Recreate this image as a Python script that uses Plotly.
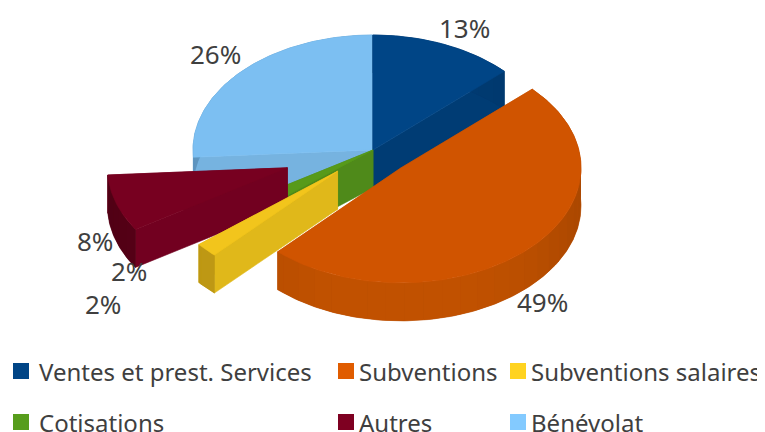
import math
import plotly.graph_objects as go

categories = ["Ventes et prest. Services", "Subventions", "Subventions salaires",
              "Cotisations", "Autres", "Bénévolat"]
shares = [13, 49, 2, 2, 8, 26]

# styling per slice: top colour, cut face colour, outer wall colour, legend colour
TOP = ["#004586", "#d05400", "#f2c51c", "#579a1a", "#770020", "#7cbff2"]
FACE = ["#003c74", "#c05000", "#e0b81a", "#4f8a1a", "#720020", "#76b3e0"]
WALL = ["#003c74", "#c25200", "#c8a015", "#467a14", "#5c0018", "#6aa8d8"]
SWATCH = ["#004586", "#e05c00", "#ffd320", "#579d1c", "#7e0021", "#83caff"]
PULL = [0, 0.22, 0.27, 0, 0.5, 0]

# pie geometry in page pixels
CX, CY = 373, 150
RX, RY = 180, 115
DEPTH = 38
FONT = "Noto Sans"
TEXT = "#3f3f3f"


def pt(cx, cy, deg, r=1.0):
    a = math.radians(deg)
    return cx + RX * r * math.sin(a), cy - RY * r * math.cos(a)


def poly(fig, pts, color, edge=True):
    xs = [p[0] for p in pts] + [pts[0][0]]
    ys = [p[1] for p in pts] + [pts[0][1]]
    fig.add_trace(go.Scatter(x=xs, y=ys, mode="lines", fill="toself", fillcolor=color,
                             line=dict(color=color, width=0.6 if edge else 0),
                             hoverinfo="skip", showlegend=False))


def shade(hex_color, f):
    r, g, b = [int(hex_color[i:i + 2], 16) for i in (1, 3, 5)]
    return "rgb(%d,%d,%d)" % (min(255, r * f), min(255, g * f), min(255, b * f))


def draw_slice(fig, a0, a1, i):
    mid = math.radians((a0 + a1) / 2)
    cx, cy = pt(CX, CY, math.degrees(mid), PULL[i])
    # cut faces, the one further back first
    for a in sorted((a0, a1), key=lambda d: -math.cos(math.radians(d))):
        ex, ey = pt(cx, cy, a)
        poly(fig, [(cx, cy), (ex, ey), (ex, ey + DEPTH), (cx, cy + DEPTH)], FACE[i])
    # outer wall: one base shape, then broad strips on it for the shading
    n = max(2, int(a1 - a0))
    arc = [pt(cx, cy, a0 + (a1 - a0) * k / n) for k in range(n + 1)]
    low = [(p[0], p[1] + DEPTH) for p in reversed(arc)]
    poly(fig, arc + low, shade(WALL[i], 0.95))
    a = a0
    while a < a1:
        b = min(a + 6, a1)
        p, q = pt(cx, cy, a), pt(cx, cy, b)
        f = 1.0 - 0.12 * abs(math.sin(math.radians((a + b) / 2))) ** 3
        poly(fig, [p, q, (q[0], q[1] + DEPTH), (p[0], p[1] + DEPTH)], shade(WALL[i], f), edge=False)
        a = b
    # top
    poly(fig, [(cx, cy)] + arc, TOP[i])


fig = go.Figure()

total = sum(shares)
edges = [0]
for s in shares:
    edges.append(edges[-1] + s / total * 360)

for i in [5, 0, 3, 4, 2, 1]:
    draw_slice(fig, edges[i], edges[i + 1], i)

# legend
rows = [371, 422]
swatch_x = [21, 346, 518]
text_x = [37, 357, 529]
for i, name in enumerate(categories):
    r, c = divmod(i, 3)
    fig.add_trace(go.Scatter(x=[swatch_x[c]], y=[rows[r]], mode="markers",
                             marker=dict(symbol="square", size=16, color=SWATCH[i]),
                             hoverinfo="skip", showlegend=False))

annotations = []
for i, name in enumerate(categories):
    r, c = divmod(i, 3)
    annotations.append(dict(x=text_x[c], y=rows[r], text=name, showarrow=False, xanchor="left",
                            yanchor="middle", font=dict(family=FONT, size=24, color=TEXT)))

# percentage labels
label_pos = [(464, 28), (542, 302), (103, 304), (129, 271), (95, 241), (215, 54)]
for s, (lx, ly) in zip(shares, label_pos):
    annotations.append(dict(x=lx, y=ly, text="%d%%" % s, showarrow=False,
                            font=dict(family=FONT, size=26, color=TEXT)))

# the page has an 8px body margin, so the plot area starts at pixel 8,8
fig.update_layout(
    width=757, height=424,
    margin=dict(l=0, r=0, t=0, b=0),
    paper_bgcolor="white", plot_bgcolor="white",
    xaxis=dict(range=[8, 765], visible=False, fixedrange=True),
    yaxis=dict(range=[432, 8], visible=False, fixedrange=True),
    annotations=annotations,
    showlegend=False,
)

fig.write_html("out.html")
